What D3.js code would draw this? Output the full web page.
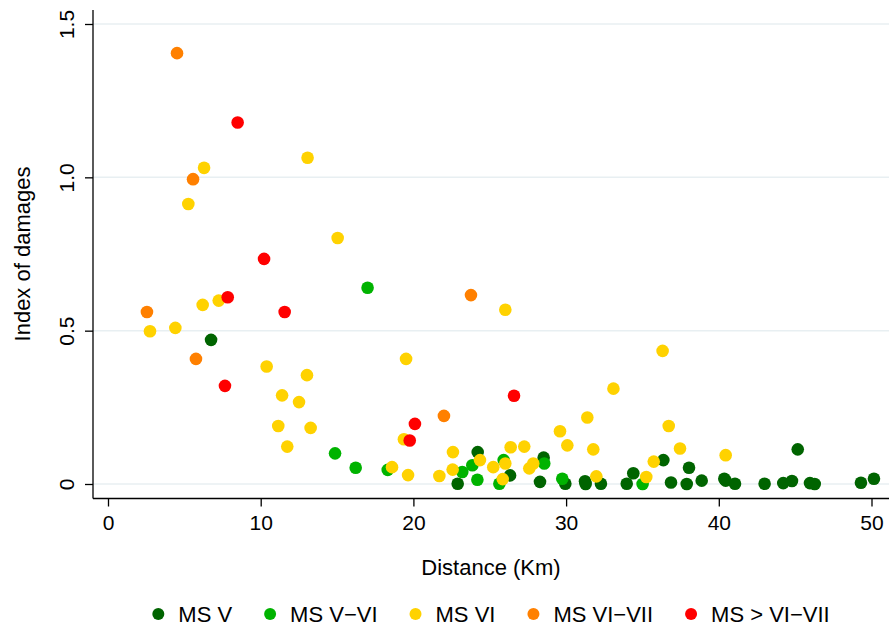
<!DOCTYPE html>
<html><head><meta charset="utf-8">
<script src="https://cdn.jsdelivr.net/npm/d3@7"></script>
<style>body{margin:0;background:#fff;} text{font-family:"Liberation Sans",Arial,Helvetica,sans-serif;fill:#000;}</style>
</head><body>
<svg id="c" width="891" height="629"></svg>
<script>
const seriesNames = ["MS V", "MS V\u2212VI", "MS VI", "MS VI\u2212VII", "MS > VI\u2212VII"];
const seriesColors = ["#006400", "#00b300", "#ffd200", "#ff8000", "#ff0000"];

const msV_x = [6.75, 22.9, 24.21, 26.33, 28.29, 28.53, 29.95, 31.24, 31.28, 32.28, 33.97, 34.4, 36.37, 36.87, 37.9, 38.05, 38.88, 40.36, 40.45, 41.06, 43.0, 44.22, 44.79, 45.17, 45.97, 46.28, 49.31, 50.16];
const msV_y = [0.470, 0.001, 0.104, 0.028, 0.007, 0.086, 0.001, 0.009, 0.0, 0.001, 0.001, 0.035, 0.078, 0.005, 0.0, 0.053, 0.011, 0.017, 0.011, 0.001, 0.001, 0.003, 0.010, 0.113, 0.003, 0.0, 0.004, 0.017];

const msVVI_x = [14.87, 16.22, 17.0, 18.32, 23.2, 23.86, 24.19, 25.63, 25.91, 28.57, 29.75, 35.01];
const msVVI_y = [0.100, 0.053, 0.640, 0.046, 0.039, 0.061, 0.014, 0.001, 0.078, 0.067, 0.017, 0.0];

const msVI_x = [2.75, 4.41, 5.26, 6.2, 6.29, 7.25, 10.39, 11.15, 11.4, 11.74, 12.51, 13.03, 13.07, 13.27, 15.04, 18.6, 19.38, 19.52, 19.65, 21.7, 22.57, 22.59, 24.36, 25.23, 25.85, 26.02, 26.02, 26.37, 27.26, 27.59, 27.85, 29.6, 30.08, 31.39, 31.78, 31.98, 33.1, 35.25, 35.74, 36.32, 36.72, 37.46, 40.45];
const msVI_y = [0.498, 0.509, 0.913, 0.584, 1.031, 0.598, 0.383, 0.189, 0.289, 0.122, 0.267, 0.355, 1.064, 0.183, 0.802, 0.055, 0.146, 0.408, 0.029, 0.026, 0.047, 0.104, 0.078, 0.055, 0.016, 0.568, 0.067, 0.120, 0.122, 0.051, 0.067, 0.172, 0.126, 0.217, 0.113, 0.025, 0.311, 0.023, 0.073, 0.434, 0.189, 0.116, 0.094];

const msVIVII_x = [2.55, 4.52, 5.57, 5.76, 22.0, 23.77];
const msVIVII_y = [0.561, 1.405, 0.994, 0.408, 0.222, 0.616];

const msGtVIVII_x = [7.66, 7.84, 8.49, 10.22, 11.57, 19.76, 20.1, 26.59];
const msGtVIVII_y = [0.320, 0.609, 1.179, 0.734, 0.561, 0.142, 0.196, 0.288];

const xTicks = [0, 10, 20, 30, 40, 50];
const yTicks = [0, 0.5, 1.0, 1.5];
const yTickLabels = ["0", "0.5", "1.0", "1.5"];
const xTitle = "Distance (Km)";
const yTitle = "Index of damages";

const seriesX = [msV_x, msVVI_x, msVI_x, msVIVII_x, msGtVIVII_x];
const seriesY = [msV_y, msVVI_y, msVI_y, msVIVII_y, msGtVIVII_y];

const svg = d3.select("#c");
const x = d3.scaleLinear().domain([0, 50]).range([108, 871.5]);
const y = d3.scaleLinear().domain([0, 1.5]).range([484, 24]);
const pLeft = 93, pRight = 889, pTop = 10, pBottom = 498.5;

// gridlines
svg.append("g").selectAll("line").data(yTicks).join("line")
  .attr("x1", pLeft).attr("x2", pRight)
  .attr("y1", d => y(d)).attr("y2", d => y(d))
  .attr("stroke", "#e8eff2").attr("stroke-width", 1.5);

// y axis
const yAxis = svg.append("g").attr("transform", `translate(${pLeft},0)`)
  .call(d3.axisLeft(y).tickValues(yTicks).tickSize(8).tickFormat((d, i) => yTickLabels[i]));
yAxis.select(".domain").remove();
yAxis.selectAll(".tick line").attr("stroke", "#000").attr("stroke-width", 1.3);
yAxis.selectAll(".tick text")
  .attr("x", null).attr("dy", null)
  .attr("transform", "translate(-19,0) rotate(-90)")
  .attr("text-anchor", "middle").attr("font-size", 21)
  .style("font-family", '"Liberation Sans", Arial, sans-serif');
svg.append("line").attr("x1", pLeft).attr("x2", pLeft).attr("y1", pTop).attr("y2", pBottom)
  .attr("stroke", "#000").attr("stroke-width", 1.3);

// x axis
const xAxis = svg.append("g").attr("transform", `translate(0,${pBottom})`)
  .call(d3.axisBottom(x).tickValues(xTicks).tickSize(8).tickFormat(d3.format("d")));
xAxis.select(".domain").remove();
xAxis.selectAll(".tick line").attr("stroke", "#000").attr("stroke-width", 1.3);
xAxis.selectAll(".tick text").attr("y", 31).attr("dy", null)
  .attr("font-size", 21).style("font-family", '"Liberation Sans", Arial, sans-serif');
svg.append("line").attr("x1", pLeft).attr("x2", pRight).attr("y1", pBottom).attr("y2", pBottom)
  .attr("stroke", "#000").attr("stroke-width", 1.3);

// titles
svg.append("text").attr("x", 491).attr("y", 575).attr("text-anchor", "middle")
  .attr("font-size", 22).text(xTitle);
svg.append("text").attr("transform", "translate(30,254) rotate(-90)").attr("text-anchor", "middle")
  .attr("font-size", 22).text(yTitle);

// points
seriesX.forEach((xs, si) => {
  svg.append("g").selectAll("circle").data(xs.map((v, i) => [v, seriesY[si][i]])).join("circle")
    .attr("cx", d => x(d[0])).attr("cy", d => y(d[1])).attr("r", 6.3)
    .attr("fill", seriesColors[si]);
});

// legend
const lg = svg.append("g");
let cur = 0;
seriesNames.forEach((name, i) => {
  const g = lg.append("g");
  g.append("circle").attr("cx", 0).attr("cy", -8).attr("r", 6).attr("fill", seriesColors[i]);
  const t = g.append("text").attr("x", 20).attr("y", 0).attr("font-size", 22).text(name);
  const w = 20 + t.node().getComputedTextLength();
  g.attr("transform", `translate(${cur},0)`);
  cur += w + 38;
});
const totalW = cur - 38 + 6;
lg.attr("transform", `translate(${491 - totalW / 2 + 6},622)`);
</script>
</body></html>
